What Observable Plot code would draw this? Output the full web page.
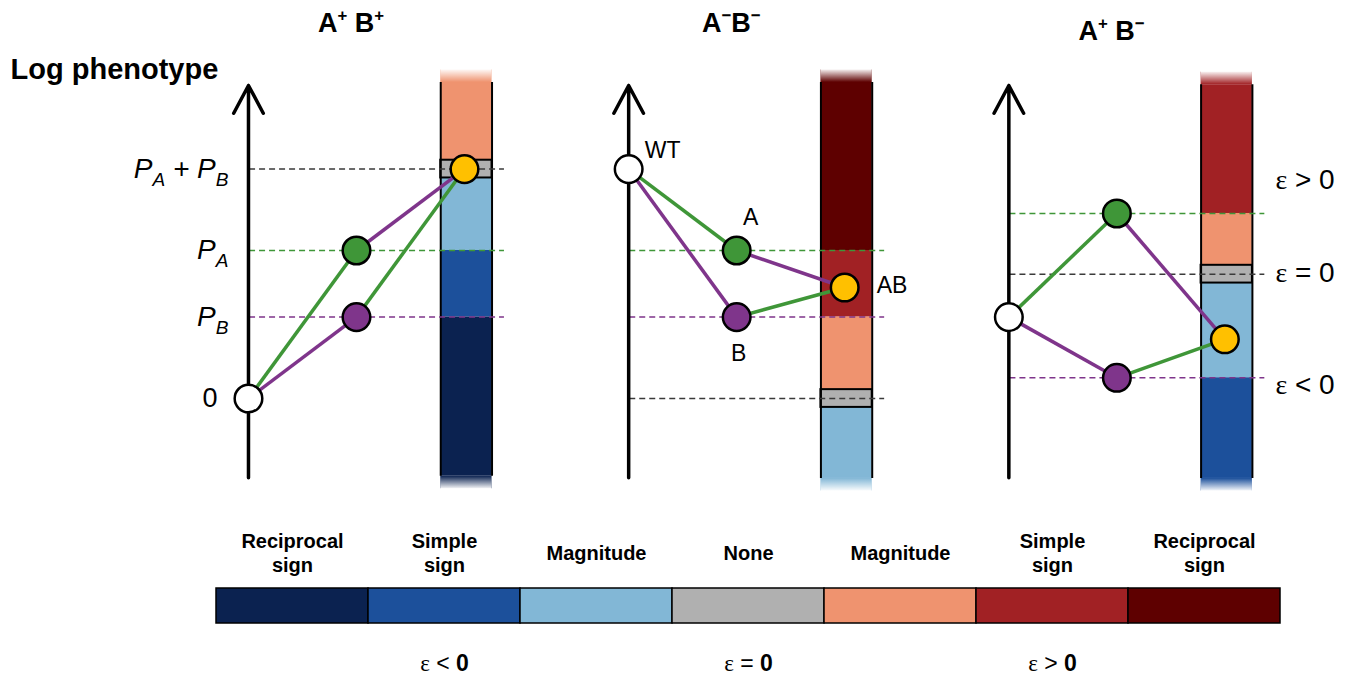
<!DOCTYPE html>
<html><head><meta charset="utf-8">
<script src="https://cdn.jsdelivr.net/npm/d3@7"></script>
<script src="https://cdn.jsdelivr.net/npm/@observablehq/plot@0.6"></script>
<style>body{margin:0;background:#fff} svg{display:block}</style>
</head><body><div id="chart"></div>
<script>
// ---------------- data ----------------
const panelTitles = ["A^{+} B^{+}", "A^{−}B^{−}", "A^{+} B^{−}"];
const genotypes = ["WT", "A", "B", "AB"];
const genotypeStep = [0, 1, 1, 2];
// log phenotype of each genotype in the three panels
const wtValues = [0, 3.1, 1.1];
const aValues = [2.0, 2.0, 2.5];
const bValues = [1.1, 1.1, 0.28];
const abValues = [3.1, 1.5, 0.8];
const expectedValues = [3.1, 0.0, 1.68];

// epistasis classes (legend)
const classIds = ["recNeg", "simNeg", "magNeg", "none", "magPos", "simPos", "recPos"];
const classLabels = ["Reciprocal\nsign", "Simple\nsign", "Magnitude", "None", "Magnitude", "Simple\nsign", "Reciprocal\nsign"];
const classColors = ["#0b2250", "#1c509b", "#82b7d6", "#b0b0b0", "#ef936f", "#a12124", "#5e0000"];
const epsilonLabels = ["~{ε} < *{0}", "~{ε} = *{0}", "~{ε} > *{0}"];
const epsilonClasses = ["simNeg", "none", "simPos"];

// coloured bar segments of each panel (log phenotype ranges)
const segPanel = [0, 0, 0, 0, 0, 1, 1, 1, 1, 1, 2, 2, 2, 2, 2];
const segClass = ["magPos", "none", "magNeg", "simNeg", "recNeg",
                  "recPos", "simPos", "magPos", "none", "magNeg",
                  "simPos", "magPos", "none", "magNeg", "simNeg"];
const segHigh = [4.27, 3.22, 2.98, 2.0, 1.1, 4.27, 2.0, 1.1, 0.12, -0.12, 4.24, 2.5, 1.80, 1.56, 0.28];
const segLow  = [3.22, 2.98, 2.0, 1.1, -1.05, 2.0, 1.1, 0.12, -0.12, -1.08, 2.5, 1.80, 1.56, 0.28, -1.08];

// annotations
const axisLabels = ["P_{A} + P_{B}", "P_{A}", "P_{B}"];
const axisLabelValues = [3.1, 2.0, 1.1];
const zeroLabel = "0";
const sideLabels = ["~{ε} > 0", "~{ε} = 0", "~{ε} < 0"];
const sideLabelValues = [2.95, 1.7, 0.18];

// ---------------- layout (style) ----------------
const FONT = "'Liberation Sans', Arial, Helvetica, sans-serif";
const PANEL_OFFSET = 3.52, BAR_X1 = 1.78, BAR_X2 = 2.255;
const AXIS_LOW = -1.07, AXIS_HIGH = 4.23, FADE = 0.17;
const xPos = (p, step) => p * PANEL_OFFSET + step;
const panels = [0, 1, 2];
const valueOf = (p, g) => ({WT: wtValues, A: aValues, B: bValues, AB: abValues})[g][p];

const points = panels.flatMap(p => genotypes.map((g, j) => ({p, g, x: xPos(p, genotypeStep[j]), v: valueOf(p, g)})));
const edgeDefs = [["WT", "A", "A"], ["A", "AB", "B"], ["WT", "B", "B"], ["B", "AB", "A"]];
const edges = panels.flatMap(p => edgeDefs.map(([from, to, cls]) => {
  const a = points.find(d => d.p === p && d.g === from), b = points.find(d => d.p === p && d.g === to);
  return {x1: a.x, y1: a.v, x2: b.x, y2: b.v, cls};
}));
const dashes = panels.flatMap(p => [
  {p, v: aValues[p], cls: "A"}, {p, v: bValues[p], cls: "B"}, {p, v: expectedValues[p], cls: "exp"}]);
const segIdx = segPanel.map((_, i) => i);
const barTop = p => d3.max(segIdx.filter(i => segPanel[i] === p), i => segHigh[i]);
const barBottom = p => d3.min(segIdx.filter(i => segPanel[i] === p), i => segLow[i]);
const topClass = p => segClass[segIdx.find(i => segPanel[i] === p && segHigh[i] === barTop(p))];
const bottomClass = p => segClass[segIdx.find(i => segPanel[i] === p && segLow[i] === barBottom(p))];

const colorDomain = classIds.concat(["WT", "A", "B", "AB", "exp"]);
const colorRange = classColors.concat(["#ffffff", "#3f9638", "#7f358b", "#ffc000", "#3a3a3a"]);

const barX1 = p => xPos(p, BAR_X1), barX2 = p => xPos(p, BAR_X2);

const main = Plot.plot({
  width: 1353, height: 500, margin: 0,
  x: {domain: [-2.296, 10.231], axis: null},
  y: {domain: [-1.378, 5.378], axis: null},
  color: {domain: colorDomain, range: colorRange},
  style: {fontFamily: FONT, background: "white", overflow: "visible", color: "black"},
  marks: [
    // bars
    Plot.rect(segIdx, {x1: i => barX1(segPanel[i]), x2: i => barX2(segPanel[i]), y1: i => segLow[i], y2: i => segHigh[i], fill: i => segClass[i]}),
    Plot.rect(panels, {x1: barX1, x2: barX2, y1: barTop, y2: p => barTop(p) + FADE, fill: topClass}),
    Plot.rect(panels, {x1: barX1, x2: barX2, y1: barTop, y2: p => barTop(p) + FADE + 0.01, fill: "url(#fadeUp)"}),
    Plot.rect(panels, {x1: barX1, x2: barX2, y1: p => barBottom(p) - FADE, y2: barBottom, fill: bottomClass}),
    Plot.rect(panels, {x1: barX1, x2: barX2, y1: p => barBottom(p) - FADE - 0.01, y2: barBottom, fill: "url(#fadeDown)"}),
    Plot.rect(segIdx.filter(i => segClass[i] === "none"), {x1: i => barX1(segPanel[i]), x2: i => barX2(segPanel[i]), y1: i => segLow[i], y2: i => segHigh[i], fill: "none", stroke: "black", strokeWidth: 2}),
    Plot.ruleX(panels.flatMap(p => [{p, x: barX1(p)}, {p, x: barX2(p)}]), {x: "x", y1: d => barBottom(d.p), y2: d => barTop(d.p), stroke: "black", strokeWidth: 2}),
    // dashed reference lines
    Plot.ruleY(dashes, {y: "v", x1: d => xPos(d.p, 0.01), x2: d => xPos(d.p, 2.37), stroke: "cls", strokeWidth: 1.5, strokeDasharray: "6,4"}),
    // phenotype axes
    Plot.arrow(panels, {x1: p => xPos(p, 0), x2: p => xPos(p, 0), y1: AXIS_LOW, y2: AXIS_HIGH, stroke: "black", strokeWidth: 3.5, headLength: 13.5, headAngle: 56, strokeLinejoin: "round"}),
    // mutation paths
    Plot.link(edges, {x1: "x1", y1: "y1", x2: "x2", y2: "y2", stroke: "cls", strokeWidth: 3.5}),
    Plot.dot(points, {x: "x", y: "v", r: 13.8, fill: "g", stroke: "black", strokeWidth: 2.5}),
    // texts
    Plot.text(["Log phenotype"], {frameAnchor: "top-left", dx: 10, dy: 69, lineAnchor: "middle", text: d => d, textAnchor: "start", fontSize: 29, fontWeight: "bold"}),
    Plot.text(panels, {x: p => xPos(p, 0.95), y: p => p === 2 ? 4.96 : 5.07, text: p => panelTitles[p], fontSize: 27, fontWeight: "bold"}),
    Plot.text(axisLabels, {x: xPos(0, 0), y: (d, i) => axisLabelValues[i], text: d => d, textAnchor: "end", dx: -20, fontSize: 28, fontStyle: "italic"}),
    Plot.text([zeroLabel], {x: xPos(0, 0), y: wtValues[0], text: d => d, textAnchor: "end", dx: -31, fontSize: 27}),
    Plot.text(["WT"], {x: xPos(1, 0), y: wtValues[1], text: d => d, textAnchor: "start", dx: 16, dy: -18, fontSize: 23}),
    Plot.text(["A"], {x: xPos(1, 1), y: aValues[1], text: d => d, dx: 14, dy: -33, fontSize: 23}),
    Plot.text(["B"], {x: xPos(1, 1), y: bValues[1], text: d => d, dx: 2, dy: 37, fontSize: 23}),
    Plot.text(["AB"], {x: xPos(1, 2), y: abValues[1], text: d => d, textAnchor: "start", dx: 32, dy: -2, fontSize: 23}),
    Plot.text(sideLabels, {x: barX2(2), y: (d, i) => sideLabelValues[i], text: d => d, textAnchor: "start", dx: 23, fontSize: 28})
  ]
});

const legend = Plot.plot({
  width: 1353, height: 178,
  marginLeft: 215, marginRight: 73, marginTop: 88, marginBottom: 55,
  x: {type: "band", domain: classIds, padding: 0, axis: null},
  color: {domain: classIds, range: classColors},
  style: {fontFamily: FONT, background: "white", overflow: "visible", color: "black"},
  marks: [
    Plot.cell(classIds, {x: d => d, fill: d => d, stroke: "black", strokeWidth: 1.5}),
    Plot.text(classIds, {x: d => d, text: (d, i) => classLabels[i], frameAnchor: "top", lineAnchor: "middle", dy: -36, fontSize: 20, fontWeight: "bold", lineHeight: 1.2}),
    Plot.text(epsilonClasses, {x: d => d, text: (d, i) => epsilonLabels[i], frameAnchor: "bottom", lineAnchor: "middle", dy: 40, fontSize: 23})
  ]
});

const chart = document.getElementById("chart");
chart.append(main, legend);

// gradients for the fading bar ends
const defs = d3.select(main).insert("defs", ":first-child");
function grad(id, y1, y2) {
  const g = defs.append("linearGradient").attr("id", id).attr("x1", 0).attr("y1", y1).attr("x2", 0).attr("y2", y2);
  g.append("stop").attr("offset", 0).attr("stop-color", "#fff").attr("stop-opacity", 0);
  g.append("stop").attr("offset", 1).attr("stop-color", "#fff").attr("stop-opacity", 1);
}
grad("fadeUp", 1, 0);
grad("fadeDown", 0, 1);

// rich text: _{sub}, ^{sup}, *{bold}, ~{serif}
function richify(svg) {
  d3.select(svg).selectAll("text").each(function() {
    if (this.querySelector("tspan")) return;
    const t = this.textContent;
    if (!/[_^*~]\{/.test(t)) return;
    const fs = parseFloat(getComputedStyle(this).fontSize);
    this.textContent = "";
    const re = /([_^*~])\{([^}]*)\}|([^_^*~]+)/g;
    let m, shift = 0;
    while ((m = re.exec(t))) {
      const ts = d3.select(this).append("tspan");
      let target = 0;
      if (m[1]) {
        ts.text(m[2]);
        if (m[1] === "_") { ts.attr("font-size", fs * 0.68); target = fs * 0.27; }
        else if (m[1] === "^") { ts.attr("font-size", fs * 0.62); target = -fs * 0.42; }
        else if (m[1] === "*") ts.attr("font-weight", "bold");
        else ts.attr("font-family", "'Liberation Serif', 'DejaVu Serif', serif").attr("font-style", "normal");
      } else ts.text(m[3]);
      if (target !== shift) { ts.attr("dy", target - shift); shift = target; }
    }
  });
}
richify(main);
richify(legend);
</script>
</body></html>
